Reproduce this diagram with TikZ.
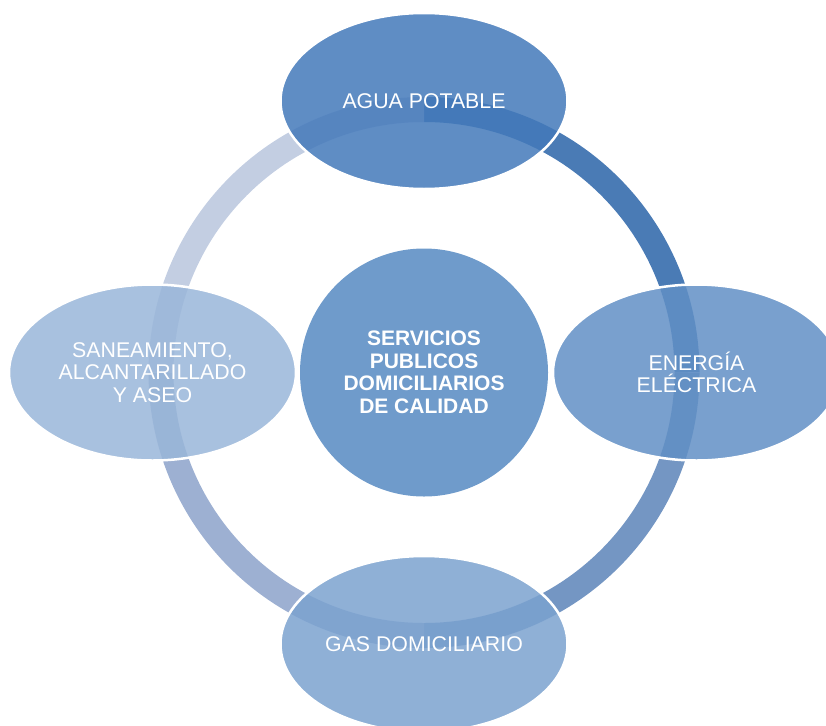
\documentclass[tikz,border=0pt]{standalone}
\usepackage{fontspec}
\setmainfont{Liberation Sans}
\usetikzlibrary{positioning}
\usetikzlibrary{shapes.geometric}

\definecolor{tramoA}{HTML}{4A7BB5}
\definecolor{tramoB}{HTML}{7496C3}
\definecolor{tramoC}{HTML}{9DB0D2}
\definecolor{tramoD}{HTML}{C3CEE2}
\definecolor{aguaC}{HTML}{4379BA}
\definecolor{enerC}{HTML}{618FC5}
\definecolor{gasC}{HTML}{7BA2CF}
\definecolor{sanC}{HTML}{99B6D9}
\definecolor{srvC}{HTML}{6F9BCB}

\begin{document}
\begin{tikzpicture}[
    x=1pt, y=1pt,
    node distance=271.5pt,
    every node/.style={font=\fontsize{21.3}{22.5}\selectfont, text=white},
    servicio/.style={ellipse, draw=white, line width=2.5pt, fill opacity=0.85, text opacity=1,
        minimum width=287pt, minimum height=176pt, inner sep=0pt, align=center},
    nucleo/.style={circle, fill=srvC, minimum size=248pt, inner sep=0pt, align=center,
        font=\bfseries\fontsize{21}{22.5}\selectfont},
    tramo/.style={line width=25pt}
]
\useasboundingbox (0,0) rectangle (826,-725);

% Nodes
\node[nucleo] (srv) at (424,-372.5) {SERVICIOS\\PUBLICOS\\DOMICILIARIOS\\DE CALIDAD};

% Ring
\draw[tramo, draw=tramoA] ([shift={(90:263pt)}]srv.center) arc[start angle=90, end angle=0, radius=263pt];
\draw[tramo, draw=tramoB] ([shift={(0:263pt)}]srv.center) arc[start angle=0, end angle=-90, radius=263pt];
\draw[tramo, draw=tramoC] ([shift={(-90:263pt)}]srv.center) arc[start angle=-90, end angle=-180, radius=263pt];
\draw[tramo, draw=tramoD] ([shift={(180:263pt)}]srv.center) arc[start angle=180, end angle=90, radius=263pt];

\node[servicio, fill=aguaC, above of=srv] (agua) {AGUA POTABLE};
\node[servicio, fill=enerC, right of=srv, xshift=1pt] (ener) {ENERGÍA\\ELÉCTRICA};
\node[servicio, fill=gasC, below of=srv] (gas) {GAS DOMICILIARIO};
\node[servicio, fill=sanC, left of=srv] (san) {SANEAMIENTO,\\ALCANTARILLADO\\Y ASEO};

\end{tikzpicture}
\end{document}
